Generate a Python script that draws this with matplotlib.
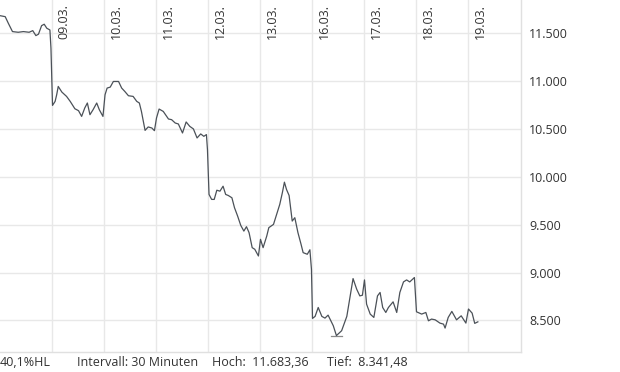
import matplotlib
matplotlib.use("Agg")
import matplotlib.pyplot as plt
import numpy as np

plt.rcParams['font.family'] = ['Open Sans', 'DejaVu Sans']

# time in trading days since 06.03. open, index price
days = [0.00, 0.10, 0.16, 0.24, 0.35, 0.45, 0.56, 0.63, 0.69, 0.74, 0.80, 0.85, 0.90, 0.96,
        0.98, 1.00, 1.01, 1.06, 1.09, 1.12, 1.19, 1.28, 1.35, 1.44, 1.51, 1.57, 1.63, 1.68,
        1.73, 1.79, 1.86, 1.91, 1.98, 2.02, 2.06, 2.12, 2.18, 2.28, 2.34, 2.40, 2.47, 2.56,
        2.63, 2.68, 2.72, 2.79, 2.85, 2.92, 2.97, 3.01, 3.06, 3.14, 3.24, 3.30, 3.37, 3.43,
        3.51, 3.58, 3.65, 3.72, 3.79, 3.86, 3.92, 3.97, 3.99, 4.01, 4.02, 4.07, 4.12, 4.17,
        4.23, 4.29, 4.34, 4.39, 4.46, 4.51, 4.57, 4.63, 4.69, 4.74, 4.79, 4.85, 4.90, 4.97,
        5.01, 5.06, 5.13, 5.17, 5.26, 5.32, 5.38, 5.43, 5.47, 5.51, 5.56, 5.62, 5.67, 5.73,
        5.79, 5.83, 5.91, 5.96, 5.99, 6.01, 6.06, 6.12, 6.19, 6.25, 6.31, 6.41, 6.47, 6.57,
        6.67, 6.79, 6.86, 6.92, 6.97, 7.01, 7.05, 7.12, 7.19, 7.26, 7.31, 7.36, 7.42, 7.47,
        7.56, 7.63, 7.69, 7.76, 7.82, 7.88, 7.97, 8.01, 8.11, 8.19, 8.24, 8.30, 8.37, 8.46,
        8.53, 8.56, 8.62, 8.69, 8.78, 8.87, 8.96, 9.01, 9.08, 9.13, 9.19]
prices = [11683.36, 11673, 11604, 11517, 11510, 11517, 11510, 11527, 11475, 11490, 11579,
          11594, 11552, 11534, 11344, 10944, 10746, 10788, 10857, 10944, 10885, 10840, 10788,
          10711, 10691, 10631, 10719, 10771, 10649, 10701, 10771, 10701, 10631, 10857, 10927,
          10937, 10996, 10996, 10927, 10892, 10847, 10840, 10788, 10771, 10683, 10485, 10521,
          10510, 10482, 10615, 10708, 10683, 10604, 10597, 10562, 10552, 10458, 10573, 10527,
          10500, 10406, 10448, 10423, 10441, 10284, 9990, 9816, 9764, 9764, 9860, 9850, 9902,
          9816, 9805, 9781, 9677, 9590, 9493, 9433, 9479, 9417, 9260, 9243, 9173, 9347, 9260,
          9381, 9469, 9503, 9607, 9711, 9833, 9944, 9868, 9805, 9538, 9573, 9417, 9295, 9208,
          9191, 9238, 9034, 8521, 8542, 8635, 8542, 8524, 8555, 8444, 8341.48, 8392, 8542,
          8937, 8826, 8756, 8763, 8923, 8670, 8566, 8531, 8756, 8792, 8635, 8583, 8635, 8694,
          8583, 8792, 8902, 8923, 8902, 8948, 8590, 8566, 8583, 8496, 8514, 8506, 8472, 8461,
          8420, 8531, 8594, 8506, 8548, 8472, 8619, 8576, 8469, 8485]

date_pos = [1, 2, 3, 4, 5, 6, 7, 8, 9]
date_labels = ["09.03.", "10.03.", "11.03.", "12.03.", "13.03.", "16.03.", "17.03.", "18.03.", "19.03."]
y_ticks = [8500, 9000, 9500, 10000, 10500, 11000, 11500]
y_labels = ["8.500", "9.000", "9.500", "10.000", "10.500", "11.000", "11.500"]
footer = ["40,1%HL", "Intervall: 30 Minuten", "Hoch:  11.683,36", "Tief:  8.341,48"]

fig = plt.figure(figsize=(6.2, 3.72), dpi=100)
ax = fig.add_axes([0, 20 / 372, 521 / 620, 352 / 372])

ax.plot(days, prices, color='#4b5158', lw=0.9, zorder=3)

# high / low markers
lo = int(np.argmin(prices))
ax.plot([days[lo] - 0.1, days[lo] + 0.1], [prices[lo]] * 2, color='#8a8a8a', lw=0.9, zorder=2)

ax.set_xlim(0, 10.02)
ax.set_ylim(8170, 11847)

ax.set_xticks(date_pos)
ax.set_xticklabels([])
ax.set_yticks(y_ticks)
ax.set_yticklabels(y_labels)
ax.yaxis.tick_right()
ax.tick_params(axis='y', length=0, pad=6, labelsize=9, labelcolor='#333333')
ax.tick_params(axis='x', length=0)
ax.grid(True, color='#e8e8e8', lw=1)
ax.set_axisbelow(True)

for s in ['top', 'left']:
    ax.spines[s].set_visible(False)
for s in ['right', 'bottom']:
    ax.spines[s].set_color('#e0e0e0')
    ax.spines[s].set_linewidth(1)

for d, lab in zip(date_pos, date_labels):
    ax.annotate(lab, xy=(d, 1), xycoords=('data', 'axes fraction'),
                xytext=(4, -3), textcoords='offset points', rotation=90,
                ha='left', va='top', fontsize=9, color='#333333')

xs = [0, 77, 212, 327]
for x, t in zip(xs, footer):
    fig.text(x / 620, 1 - 363 / 372, t, ha='left', va='center', fontsize=9, color='#333333')

fig.savefig("out.png", dpi=100)
